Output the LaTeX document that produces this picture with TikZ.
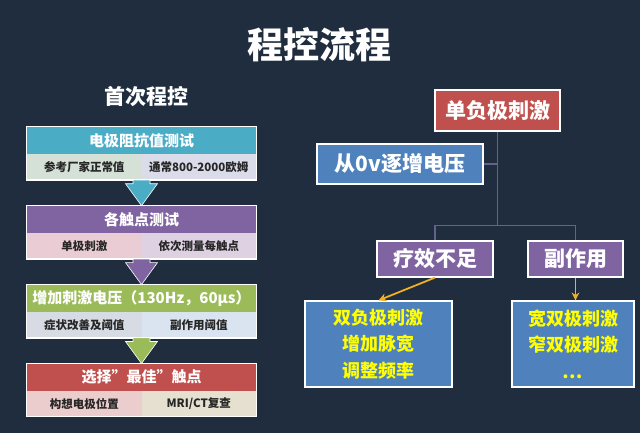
\documentclass[tikz,border=0pt]{standalone}
\usepackage{fontspec}
\setmainfont{Noto Sans CJK SC}
\usetikzlibrary{positioning,arrows.meta,calc}
\definecolor{pgbg}{RGB}{31,45,62}
\definecolor{pgteal}{RGB}{75,172,198}
\definecolor{pgpurple}{RGB}{128,100,162}
\definecolor{pggreen}{RGB}{155,187,89}
\definecolor{pgred}{RGB}{192,80,77}
\definecolor{pgblue}{RGB}{79,129,189}
\definecolor{pgline}{RGB}{100,98,140}
\definecolor{pggold}{RGB}{240,176,32}
\definecolor{pgyellow}{RGB}{255,255,0}
\definecolor{tealL}{RGB}{213,224,214}
\definecolor{tealR}{RGB}{218,220,234}
\definecolor{purpL}{RGB}{234,205,212}
\definecolor{purpR}{RGB}{222,210,226}
\definecolor{grnL}{RGB}{214,219,228}
\definecolor{grnR}{RGB}{218,228,240}
\definecolor{redL}{RGB}{236,205,205}
\definecolor{redR}{RGB}{229,224,207}
\tikzset{
  hdr/.style={minimum width=229pt, minimum height=27pt, inner sep=0pt, text=white, font=\fontsize{15}{18}\selectfont\bfseries},
  subcell/.style={minimum width=114.5pt, minimum height=25.5pt, inner sep=0pt, text=black!85, font=\fontsize{11.5}{14}\selectfont\bfseries},
  boxedge/.style={draw=white, line width=1.2pt},
  card/.style={draw=white, line width=1.2pt, inner sep=0pt, text=white, font=\fontsize{21}{24}\selectfont\bfseries},
  option/.style={card, fill=pgblue, text=pgyellow, align=center, font=\fontsize{18}{26.5}\selectfont\bfseries},
  tree/.style={draw=pgline, line width=1.5pt},
  gold/.style={-{Stealth[length=8pt,width=8pt]}, pggold, line width=1.8pt}
}
\newcommand{\blockarrow}[3]{%
  \filldraw[fill=#3, draw=white!75, line width=0.6pt] let \p1=(#1), \p2=(#2) in
    (\x2-8.5pt,\y1) -- (\x2-8.5pt,\y2+22pt) -- (\x2-16pt,\y2+22pt) -- (\x2,\y2)
    -- (\x2+16pt,\y2+22pt) -- (\x2+8.5pt,\y2+22pt) -- (\x2+8.5pt,\y1) -- cycle;}

\begin{document}
\begin{tikzpicture}[x=1pt, y=1pt, node distance=51.5pt]
    \fill[pgbg] (0,0) rectangle (640,-433);
    \useasboundingbox (0,0) rectangle (640,-433);
    \node[text=white, font=\fontsize{36}{40}\selectfont\bfseries] (title) at (319,-45) {程控流程};
    \node[text=white, font=\fontsize{21}{24}\selectfont\bfseries] (first) at (146,-97) {首次程控};

    \node[hdr, fill=pgteal] (imp) at (141.5,-140.5) {电极阻抗值测试};
    \node[subcell, fill=tealL, anchor=north west] (impL) at (imp.south west) {参考厂家正常值};
    \node[subcell, fill=tealR, anchor=north east] (impR) at (imp.south east) {通常800-2000欧姆};
    \node[hdr, fill=pgpurple, below=of imp] (touch) {各触点测试};
    \node[subcell, fill=purpL, anchor=north west] (touchL) at (touch.south west) {单极刺激};
    \node[subcell, fill=purpR, anchor=north east] (touchR) at (touch.south east) {依次测量每触点};
    \node[hdr, fill=pggreen, below=of touch] (raise) {增加刺激电压（130Hz，60μs）};
    \node[subcell, fill=grnL, anchor=north west] (raiseL) at (raise.south west) {症状改善及阈值};
    \node[subcell, fill=grnR, anchor=north east] (raiseR) at (raise.south east) {副作用阈值};
    \node[hdr, fill=pgred, below=of raise] (best) {选择”最佳”触点};
    \node[subcell, fill=redL, anchor=north west] (bestL) at (best.south west) {构想电极位置};
    \node[subcell, fill=redR, anchor=north east] (bestR) at (best.south east) {MRI/CT复查};
    \draw[boxedge] (imp.north west) rectangle (impR.south east);
    \draw[boxedge] (touch.north west) rectangle (touchR.south east);
    \draw[boxedge] (raise.north west) rectangle (raiseR.south east);
    \draw[boxedge] (best.north west) rectangle (bestR.south east);
    \blockarrow{impR.south west}{touch.north}{pgteal}
    \blockarrow{touchR.south west}{raise.north}{pgpurple}
    \blockarrow{raiseR.south west}{best.north}{pggreen}

    \node[card, fill=pgred, minimum width=125pt, minimum height=41pt] (single) at (497.5,-110.5) {单负极刺激};
    \node[card, fill=pgblue, minimum width=166pt, minimum height=40pt] (ramp) at (400,-164) {从0v逐增电压};
    \node[card, fill=pgpurple, minimum width=116pt, minimum height=36pt] (lack) at (435,-259) {疗效不足};
    \node[card, fill=pgpurple, minimum width=95pt, minimum height=36pt] (side) at (575.5,-259) {副作用};
    \node[option, minimum width=147pt, minimum height=86pt] (dual) at (378.5,-344) {双负极刺激\\增加脉宽\\调整频率};
    \node[option, minimum width=122pt, minimum height=86pt] (wide) at (573,-344) {宽双极刺激\\窄双极刺激\\…};
    \coordinate (split) at ($(single.south)+(0,-94)$);
    \draw[tree] (single.south) -- (split);
    \draw[tree] (ramp.east) -- (ramp.east -| split);
    \draw[tree] (lack.north) |- (split) -| (side.north);
    \draw[gold] (lack.south) -- (dual.north);
    \draw[gold] (side.south) -- (side.south |- wide.north);
  \end{tikzpicture}
\end{document}
